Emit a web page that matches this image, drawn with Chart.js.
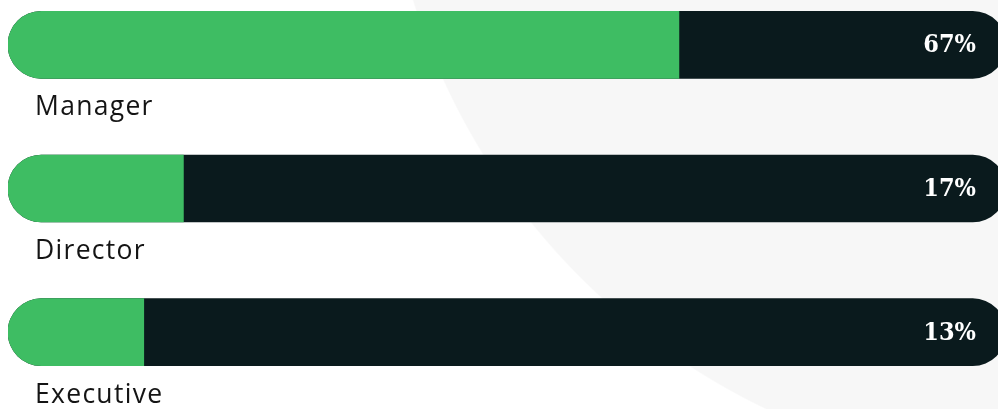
<!DOCTYPE html>
<html>
<head>
<meta charset="utf-8">
<script src="https://cdn.jsdelivr.net/npm/chart.js@4"></script>
<style>
    html, body {
        margin: 0;
        padding: 0;
        width: 998px;
        height: 409px;
        overflow: hidden;
        background: radial-gradient(circle 676px at 1058px -200px, #f7f7f7 99.8%, #ffffff 100%);
    }
    #chart-container {
        position: absolute;
        left: 0;
        top: -27px;
        width: 1010px;
        height: 450px;
    }
</style>
</head>
<body>
<div id="chart-container">
    <canvas id="bar-chart"></canvas>
</div>
<script>
const CATEGORIES = ["Manager", "Director", "Executive"];
const SHARES = [67, 17, 13];
const TRACK = [100, 100, 100];

const GREEN = "#3ebd63";
const DARK = "#0a1a1d";
const LABELCOLOR = "#141414";
const AXISSTART = -0.7;

const barLabels = {
    id: "barLabels",
    afterDatasetsDraw(chart) {
        const ctx = chart.ctx;
        const meta = chart.getDatasetMeta(1);
        ctx.save();
        meta.data.forEach((bar, i) => {
            const half = bar.height / 2;
            // category name under the bar
            ctx.fillStyle = LABELCOLOR;
            ctx.font = "26.5px 'Open Sans'";
            ctx.letterSpacing = "1.3px";
            ctx.textAlign = "left";
            ctx.textBaseline = "alphabetic";
            ctx.fillText(CATEGORIES[i], 35, bar.y + half + 37);
            // percentage at the right end of the track
            ctx.fillStyle = "#ffffff";
            ctx.font = "bold 25px 'DejaVu Serif'";
            ctx.fontStretch = "condensed";
            ctx.letterSpacing = "0px";
            ctx.textAlign = "right";
            ctx.textBaseline = "middle";
            ctx.fillText(SHARES[i] + "%", bar.x - 30, bar.y + 1);
        });
        ctx.restore();
    }
};

function makeBarChart() {
    const ctx = document.querySelector("#bar-chart").getContext("2d");
    const configuration = {
        type: "bar",
        data: {
            labels: CATEGORIES,
            datasets: [{
                data: SHARES,
                backgroundColor: GREEN,
                base: AXISSTART,
                grouped: false,
                order: 0,
                borderSkipped: false,
                borderRadius: {topLeft: 34, bottomLeft: 34, topRight: 0, bottomRight: 0},
                barThickness: 67
            }, {
                data: TRACK,
                backgroundColor: DARK,
                base: AXISSTART,
                grouped: false,
                order: 1,
                borderSkipped: false,
                borderRadius: 34,
                barThickness: 67
            }]
        },
        options: {
            indexAxis: "y",
            responsive: true,
            maintainAspectRatio: false,
            animation: false,
            layout: {
                padding: {left: 8, right: 9, top: 0, bottom: 19}
            },
            scales: {
                x: {display: false, min: AXISSTART, max: 99.5},
                y: {display: false}
            },
            plugins: {
                legend: {display: false},
                tooltip: {enabled: false}
            }
        },
        plugins: [barLabels]
    };
    new Chart(ctx, configuration);
}

makeBarChart();
</script>
</body>
</html>
